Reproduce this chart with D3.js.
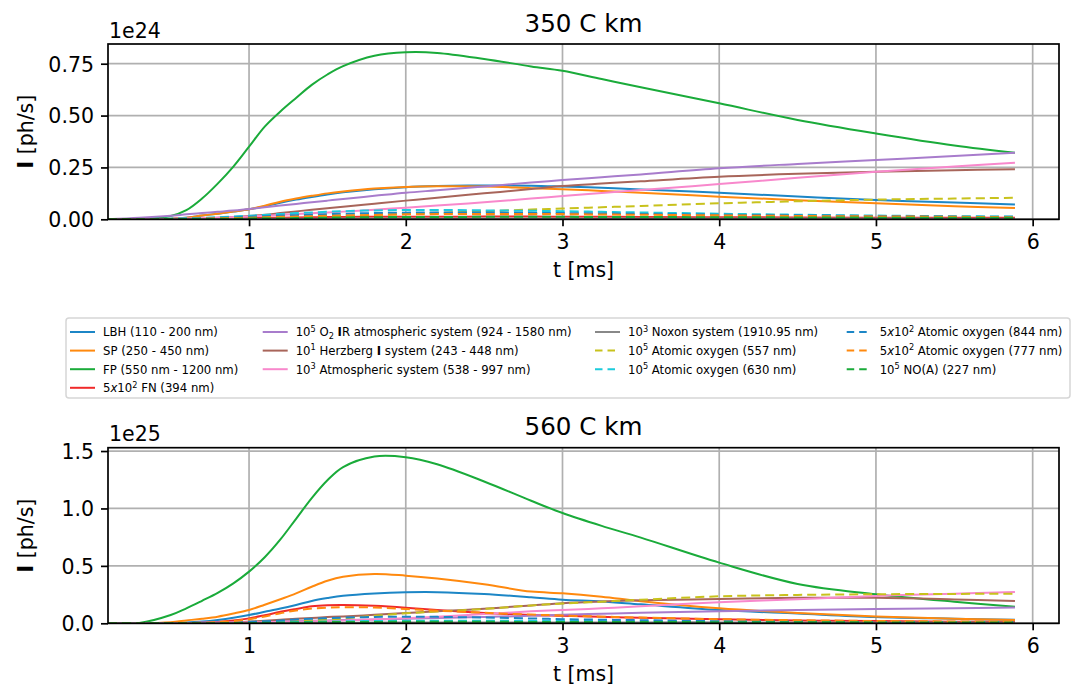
<!DOCTYPE html>
<html><head><meta charset="utf-8">
<script src="https://cdn.jsdelivr.net/npm/d3@7"></script>
<style>body{margin:0;background:#fff}svg{display:block;font-family:"DejaVu Sans",sans-serif}</style>
</head><body><svg id="c" width="1077" height="689"></svg>
<script>
const t = [0.1,0.3,0.5,0.6,0.7,0.8,0.9,1.0,1.1,1.2,1.3,1.4,1.5,1.6,1.8,2.0,2.2,2.5,2.8,3.0,3.25,3.5,4.0,4.5,5.0,5.5,5.887];

const labels = [
  "LBH (110 - 200 nm)",
  "SP (250 - 450 nm)",
  "FP (550 nm - 1200 nm)",
  "5/{x}10^{2} FN (394 nm)",
  "10^{5} O_{2} *{I}R atmospheric system (924 - 1580 nm)",
  "10^{1} Herzberg *{I} system (243 - 448 nm)",
  "10^{3} Atmospheric system (538 - 997 nm)",
  "10^{3} Noxon system (1910.95 nm)",
  "10^{5} Atomic oxygen (557 nm)",
  "10^{5} Atomic oxygen (630 nm)",
  "5/{x}10^{2} Atomic oxygen (844 nm)",
  "5/{x}10^{2} Atomic oxygen (777 nm)",
  "10^{5} NO(A) (227 nm)"
];
const colors = ["#1c86c6","#ff890e","#1aab3a","#f02a2a","#a87ccc","#a8655a","#f888cc","#888888","#c8c21c","#1ccbdc","#1c86c6","#ff890e","#1aab3a"];
const dashed = [false,false,false,false,false,false,false,false,true,true,true,true,true];

// 350 C km (x 1e24)
const lbhTop = [0,0,0.003,0.008,0.018,0.027,0.037,0.048,0.063,0.08,0.095,0.108,0.12,0.13,0.145,0.155,0.16,0.163,0.162,0.158,0.152,0.144,0.128,0.11,0.093,0.081,0.071];
const spTop  = [0,0,0.003,0.008,0.018,0.027,0.037,0.048,0.066,0.085,0.1,0.113,0.125,0.134,0.148,0.156,0.159,0.158,0.15,0.145,0.137,0.128,0.109,0.092,0.077,0.063,0.054];
const fpTop  = [0,0.001,0.016,0.044,0.1,0.172,0.254,0.35,0.447,0.52,0.585,0.648,0.698,0.738,0.788,0.805,0.802,0.773,0.737,0.716,0.676,0.637,0.559,0.479,0.414,0.356,0.321];
const fnTop  = [0,0,0.001,0.002,0.003,0.004,0.005,0.006,0.007,0.008,0.009,0.010,0.011,0.011,0.012,0.012,0.012,0.013,0.013,0.012,0.012,0.011,0.010,0.009,0.008,0.007,0.007];
const irTop  = [0,0.007,0.017,0.024,0.03,0.036,0.042,0.05,0.058,0.066,0.074,0.082,0.09,0.098,0.113,0.128,0.14,0.158,0.177,0.189,0.203,0.216,0.246,0.267,0.286,0.305,0.321];
const hzTop  = [0,0,0.001,0.002,0.004,0.007,0.011,0.016,0.022,0.03,0.038,0.046,0.053,0.06,0.075,0.09,0.104,0.125,0.146,0.16,0.172,0.183,0.205,0.219,0.229,0.237,0.241];
const atmTop = [0,0,0.002,0.004,0.006,0.008,0.011,0.014,0.017,0.021,0.025,0.029,0.033,0.037,0.046,0.056,0.066,0.082,0.1,0.112,0.127,0.141,0.17,0.2,0.229,0.255,0.273];
const noxTop = [0,0,0,0.001,0.001,0.001,0.002,0.002,0.002,0.003,0.003,0.003,0.003,0.004,0.004,0.004,0.004,0.004,0.004,0.004,0.004,0.004,0.004,0.004,0.004,0.003,0.003];
const ao557Top = [0,0,0.001,0.001,0.002,0.003,0.004,0.006,0.007,0.009,0.011,0.013,0.015,0.017,0.021,0.026,0.031,0.039,0.047,0.052,0.058,0.064,0.077,0.087,0.095,0.1,0.104];
const ao630Top = [0,0.001,0.003,0.005,0.007,0.01,0.013,0.017,0.021,0.026,0.03,0.033,0.036,0.039,0.043,0.045,0.045,0.043,0.041,0.039,0.036,0.033,0.027,0.022,0.018,0.015,0.013];
const ao844Top = [0,0,0.002,0.003,0.005,0.007,0.009,0.012,0.015,0.018,0.02,0.022,0.025,0.027,0.03,0.032,0.033,0.033,0.031,0.03,0.028,0.026,0.022,0.019,0.016,0.013,0.012];
const ao777Top = [0,0,0.001,0.002,0.003,0.005,0.006,0.008,0.01,0.012,0.013,0.015,0.017,0.018,0.021,0.024,0.025,0.026,0.026,0.025,0.023,0.022,0.019,0.016,0.014,0.012,0.01];
const noaTop = [0,0,0.001,0.001,0.002,0.002,0.003,0.004,0.005,0.005,0.006,0.007,0.008,0.009,0.01,0.011,0.011,0.012,0.012,0.012,0.011,0.011,0.01,0.009,0.008,0.007,0.007];

// 560 C km (x 1e25)
const lbhBot = [0,0,0.002,0.006,0.015,0.029,0.048,0.072,0.1,0.128,0.16,0.195,0.22,0.24,0.26,0.27,0.271,0.255,0.226,0.205,0.19,0.165,0.116,0.085,0.055,0.04,0.03];
const spBot  = [0,0,0.01,0.025,0.04,0.058,0.085,0.116,0.162,0.21,0.26,0.318,0.37,0.405,0.43,0.415,0.39,0.34,0.276,0.262,0.232,0.192,0.13,0.09,0.06,0.04,0.029];
const fpBot  = [0,0.003,0.072,0.13,0.196,0.265,0.348,0.45,0.575,0.73,0.91,1.09,1.245,1.36,1.452,1.446,1.385,1.235,1.067,0.96,0.848,0.746,0.528,0.343,0.253,0.188,0.145];
const fnBot  = [0,0,0,0.002,0.005,0.012,0.025,0.043,0.07,0.1,0.125,0.148,0.158,0.16,0.152,0.136,0.115,0.09,0.072,0.065,0.056,0.048,0.035,0.025,0.019,0.014,0.012];
const irBot  = [0,0,0.002,0.003,0.004,0.006,0.008,0.01,0.013,0.016,0.019,0.022,0.025,0.028,0.034,0.04,0.046,0.055,0.065,0.075,0.083,0.092,0.105,0.116,0.125,0.132,0.137];
const hzBot  = [0,0,0,0.001,0.002,0.004,0.007,0.015,0.022,0.03,0.04,0.047,0.054,0.06,0.074,0.09,0.104,0.127,0.155,0.175,0.19,0.2,0.212,0.222,0.222,0.208,0.194];
const atmBot = [0,0,0.002,0.003,0.004,0.005,0.006,0.008,0.01,0.012,0.015,0.018,0.021,0.025,0.034,0.045,0.058,0.08,0.104,0.116,0.13,0.148,0.183,0.21,0.238,0.258,0.273];
const noxBot = [0,0,0,0.001,0.001,0.001,0.002,0.002,0.003,0.003,0.004,0.004,0.005,0.005,0.006,0.006,0.007,0.007,0.008,0.008,0.008,0.008,0.008,0.007,0.007,0.006,0.006];
const ao557Bot = [0,0,0,0,0.001,0.001,0.002,0.005,0.008,0.012,0.018,0.025,0.033,0.042,0.065,0.087,0.103,0.125,0.155,0.172,0.188,0.205,0.235,0.247,0.253,0.256,0.257];
const ao630Bot = [0,0,0,0.001,0.001,0.002,0.003,0.005,0.007,0.009,0.011,0.013,0.015,0.017,0.02,0.022,0.022,0.022,0.021,0.02,0.019,0.018,0.015,0.013,0.012,0.011,0.01];
const ao844Bot = [0,0,0,0.001,0.002,0.003,0.007,0.012,0.018,0.025,0.033,0.04,0.045,0.05,0.055,0.058,0.056,0.05,0.042,0.036,0.031,0.027,0.018,0.013,0.01,0.008,0.007];
const ao777Bot = [0,0,0,0.001,0.004,0.01,0.02,0.035,0.06,0.088,0.112,0.128,0.137,0.14,0.138,0.125,0.11,0.092,0.076,0.068,0.058,0.05,0.036,0.027,0.02,0.016,0.014];
const noaBot = [0,0,0,0,0.001,0.001,0.002,0.003,0.004,0.005,0.007,0.009,0.01,0.011,0.012,0.013,0.013,0.013,0.012,0.012,0.011,0.011,0.01,0.009,0.008,0.007,0.006];

const xTicks = [1,2,3,4,5,6];
const topTicks = [0,0.25,0.5,0.75];
const botTicks = [0,0.5,1.0,1.5];

const panels = [
  {title:"350 C km", exp:"1e24", series:[lbhTop,spTop,fpTop,fnTop,irTop,hzTop,atmTop,noxTop,ao557Top,ao630Top,ao844Top,ao777Top,noaTop],
   ymax:0.845, ticks:topTicks, fmt:d3.format(".2f"), top:44, bottom:219.3},
  {title:"560 C km", exp:"1e25", series:[lbhBot,spBot,fpBot,fnBot,irBot,hzBot,atmBot,noxBot,ao557Bot,ao630Bot,ao844Bot,ao777Bot,noaBot],
   ymax:1.529, ticks:botTicks, fmt:d3.format(".1f"), top:447.7, bottom:623.3}
];

const svg = d3.select("#c");
const L = 108, R = 1059;
const FS = 20.5;

function rich(sel, str, fs) {
  const parts = str.split(/(\^\{[^}]*\}|_\{[^}]*\}|\*\{[^}]*\}|\/\{[^}]*\})/).filter(s => s.length);
  let shift = 0;
  parts.forEach(p => {
    let txt = p, dy = 0, size = null, weight = null, style = null;
    if (p.startsWith("^{")) { txt = p.slice(2,-1); dy = -0.38*fs; size = fs*0.7; }
    else if (p.startsWith("_{")) { txt = p.slice(2,-1); dy = 0.22*fs; size = fs*0.7; }
    else if (p.startsWith("*{")) { txt = p.slice(2,-1); weight = "bold"; }
    else if (p.startsWith("/{")) { txt = p.slice(2,-1); style = "italic"; }
    const ts = sel.append("tspan").text(txt).attr("dy", (dy - shift));
    shift = dy;
    if (size) ts.attr("font-size", size);
    if (weight) ts.attr("font-weight", weight);
    if (style) ts.attr("font-style", style);
  });
}

const x = d3.scaleLinear().domain([0.1, 6.168]).range([L, R]);

panels.forEach((P, pi) => {
  const y = d3.scaleLinear().domain([0, P.ymax]).range([P.bottom, P.top]);
  const g = svg.append("g");
  const cid = "clip" + pi;
  svg.append("clipPath").attr("id", cid).append("rect")
    .attr("x", L).attr("y", P.top).attr("width", R - L).attr("height", P.bottom - P.top);

  g.append("g").selectAll("line").data(xTicks).join("line")
    .attr("x1", d => x(d)).attr("x2", d => x(d)).attr("y1", P.top).attr("y2", P.bottom)
    .attr("stroke", "#b0b0b0").attr("stroke-width", 1.7);
  g.append("g").selectAll("line").data(P.ticks).join("line")
    .attr("x1", L).attr("x2", R).attr("y1", d => y(d)).attr("y2", d => y(d))
    .attr("stroke", "#b0b0b0").attr("stroke-width", 1.7);

  const line = d3.line().x((d, i) => x(t[i])).y(d => y(d)).curve(d3.curveCatmullRom.alpha(0.5));
  const lg = g.append("g").attr("clip-path", `url(#${cid})`);
  P.series.forEach((s, i) => {
    lg.append("path").attr("d", line(s)).attr("fill", "none")
      .attr("stroke", colors[i]).attr("stroke-width", 2)
      .attr("stroke-dasharray", dashed[i] ? "9,5" : null);
  });

  const xa = g.append("g").attr("transform", `translate(0,${P.bottom})`)
    .call(d3.axisBottom(x).tickValues(xTicks).tickSize(7).tickPadding(7).tickFormat(d3.format("d")));
  const ya = g.append("g").attr("transform", `translate(${L},0)`)
    .call(d3.axisLeft(y).tickValues(P.ticks).tickSize(7).tickPadding(7).tickFormat(P.fmt));
  [xa, ya].forEach(a => {
    a.select(".domain").remove();
    a.selectAll(".tick line").attr("stroke", "#000").attr("stroke-width", 1.7);
    a.selectAll(".tick text").attr("font-size", FS).attr("font-family", "DejaVu Sans").attr("fill", "#000");
  });
  xa.selectAll(".tick text").attr("dy", "0.78em");
  ya.selectAll(".tick text").attr("dy", "0.36em");

  g.append("rect").attr("x", L).attr("y", P.top).attr("width", R - L).attr("height", P.bottom - P.top)
    .attr("fill", "none").attr("stroke", "#000").attr("stroke-width", 1.7);

  g.append("text").attr("x", (L + R) / 2).attr("y", P.top - 12.5).attr("text-anchor", "middle")
    .attr("font-size", 24.6).text(P.title);
  g.append("text").attr("x", L + 1).attr("y", P.top - 6.5).attr("font-size", FS).text(P.exp);
  g.append("text").attr("x", (L + R) / 2).attr("y", P.bottom + 58).attr("text-anchor", "middle")
    .attr("font-size", FS).text("t [ms]");
  const yl = g.append("text").attr("transform", `translate(33,${(P.top + P.bottom) / 2}) rotate(-90)`)
    .attr("text-anchor", "middle").attr("font-size", FS);
  rich(yl, "*{I} [ph/s]", FS);
});

const lgd = svg.append("g");
lgd.append("rect").attr("x", 66).attr("y", 318).attr("width", 1004).attr("height", 80)
  .attr("rx", 3).attr("fill", "#fff").attr("stroke", "#d6d6d6").attr("stroke-width", 1.5);
const colX = [70, 262.7, 595, 846.7];
const rowY = [332, 350.6, 369.2, 387.8];
const perCol = [4, 3, 3, 3];
let idx = 0;
perCol.forEach((n, c) => {
  for (let r = 0; r < n; r++, idx++) {
    const yy = rowY[r];
    lgd.append("line").attr("x1", colX[c]).attr("x2", colX[c] + 25).attr("y1", yy).attr("y2", yy)
      .attr("stroke", colors[idx]).attr("stroke-width", 2)
      .attr("stroke-dasharray", dashed[idx] ? "7.5,5" : null);
    const tx = lgd.append("text").attr("x", colX[c] + 33).attr("y", yy + 4.3).attr("font-size", 11.7);
    rich(tx, labels[idx], 11.7);
  }
});
</script></body></html>
